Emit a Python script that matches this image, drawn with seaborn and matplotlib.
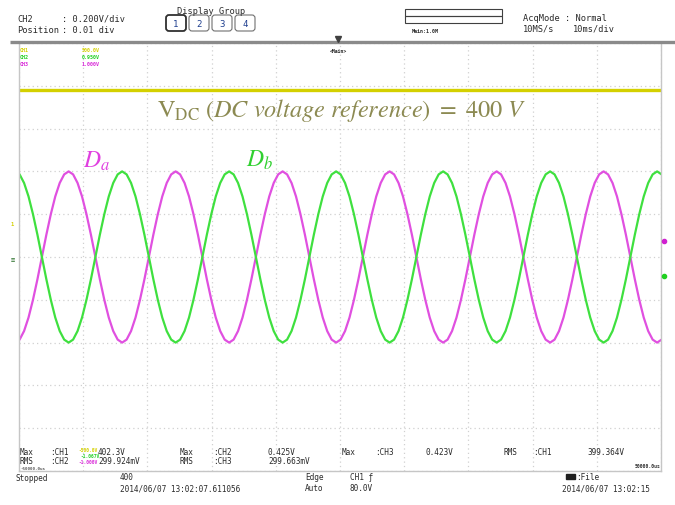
import numpy as np
import matplotlib
matplotlib.use("Agg")
import matplotlib.pyplot as plt
import seaborn as sns
from matplotlib.patches import Rectangle, FancyBboxPatch

time_per_div_ms = 10.0
n_div_x = 10
n_div_y = 10
ch23_volts_per_div = 0.2      # CH2 / CH3 vertical scale
ch1_volts_per_div = 100.0     # CH1 (DC link) vertical scale
ch1_position_div = -0.1       # CH1 trace position offset

sample_start_ms = -0.6        # time of first reading
sample_step_ms = 0.6944       # spacing of readings

# D_a (CH3, magenta) readings, volts
da_volts = [
    -0.400, -0.386, -0.346, -0.283, -0.200, -0.104, 0.000, 0.104, 0.200, 0.283, 0.346, 0.386,
    0.400, 0.386, 0.346, 0.283, 0.200, 0.104, 0.000, -0.104, -0.200, -0.283, -0.346, -0.386,
    -0.400, -0.386, -0.346, -0.283, -0.200, -0.104, 0.000, 0.104, 0.200, 0.283, 0.346, 0.386,
    0.400, 0.386, 0.346, 0.283, 0.200, 0.104, 0.000, -0.104, -0.200, -0.283, -0.346, -0.386,
    -0.400, -0.386, -0.346, -0.283, -0.200, -0.104, 0.000, 0.104, 0.200, 0.283, 0.346, 0.386,
    0.400, 0.386, 0.346, 0.283, 0.200, 0.104, 0.000, -0.104, -0.200, -0.283, -0.346, -0.386,
    -0.400, -0.386, -0.346, -0.283, -0.200, -0.104, 0.000, 0.104, 0.200, 0.283, 0.346, 0.386,
    0.400, 0.386, 0.346, 0.283, 0.200, 0.104, 0.000, -0.104, -0.200, -0.283, -0.346, -0.386,
    -0.400, -0.386, -0.346, -0.283, -0.200, -0.104, 0.000, 0.104, 0.200, 0.283, 0.346, 0.386,
    0.400, 0.386, 0.346, 0.283, 0.200, 0.104, 0.000, -0.104, -0.200, -0.283, -0.346, -0.386,
    -0.400, -0.386, -0.346, -0.283, -0.200, -0.104, 0.000, 0.104, 0.200, 0.283, 0.346, 0.386,
    0.400, 0.386, 0.346, 0.283, 0.200, 0.104, 0.000, -0.104, -0.200, -0.283, -0.346, -0.386,
    -0.400, -0.386,
]
# D_b (CH2, green) readings, volts
db_volts = [
    0.400, 0.386, 0.346, 0.283, 0.200, 0.104, 0.000, -0.104, -0.200, -0.283, -0.346, -0.386,
    -0.400, -0.386, -0.346, -0.283, -0.200, -0.104, 0.000, 0.104, 0.200, 0.283, 0.346, 0.386,
    0.400, 0.386, 0.346, 0.283, 0.200, 0.104, 0.000, -0.104, -0.200, -0.283, -0.346, -0.386,
    -0.400, -0.386, -0.346, -0.283, -0.200, -0.104, 0.000, 0.104, 0.200, 0.283, 0.346, 0.386,
    0.400, 0.386, 0.346, 0.283, 0.200, 0.104, 0.000, -0.104, -0.200, -0.283, -0.346, -0.386,
    -0.400, -0.386, -0.346, -0.283, -0.200, -0.104, 0.000, 0.104, 0.200, 0.283, 0.346, 0.386,
    0.400, 0.386, 0.346, 0.283, 0.200, 0.104, 0.000, -0.104, -0.200, -0.283, -0.346, -0.386,
    -0.400, -0.386, -0.346, -0.283, -0.200, -0.104, 0.000, 0.104, 0.200, 0.283, 0.346, 0.386,
    0.400, 0.386, 0.346, 0.283, 0.200, 0.104, 0.000, -0.104, -0.200, -0.283, -0.346, -0.386,
    -0.400, -0.386, -0.346, -0.283, -0.200, -0.104, 0.000, 0.104, 0.200, 0.283, 0.346, 0.386,
    0.400, 0.386, 0.346, 0.283, 0.200, 0.104, 0.000, -0.104, -0.200, -0.283, -0.346, -0.386,
    -0.400, -0.386, -0.346, -0.283, -0.200, -0.104, 0.000, 0.104, 0.200, 0.283, 0.346, 0.386,
    0.400, 0.386,
]
# DC link voltage (CH1), volts
vdc_time_ms = [0.0, 100.0]
vdc_volts = [400.0, 400.0]

header_left = [("CH2", ": 0.200V/div"), ("Position", ": 0.01 div")]
display_groups = ["1", "2", "3", "4"]
acq_lines = [("AcqMode : Normal", ""), ("10MS/s", "10ms/div")]
row1 = [("Max", ":CH1", "402.3V"), ("Max", ":CH2", "0.425V"),
        ("Max", ":CH3", "0.423V"), ("RMS", ":CH1", "399.364V")]
row2 = [("RMS", ":CH2", "299.924mV"), ("RMS", ":CH3", "299.663mV")]

# ---------------- styling ----------------
sns.set_style("white")
plt.rcParams["font.family"] = ["DejaVu Sans Mono", "DejaVu Sans"]
plt.rcParams["mathtext.fontset"] = "stix"

C_MAG = "#e050e0"
C_GRN = "#3fe03f"
C_YEL = "#d4d000"
C_TXT = "#2a2a2a"

W, H = 675, 506
fig = plt.figure(figsize=(W / 100, H / 100), dpi=100)
fig.patch.set_facecolor("white")

x0, x1, y0, y1 = 19, 661, 44, 472
ax = fig.add_axes([x0 / W, 1 - y1 / H, (x1 - x0) / W, (y1 - y0) / H])

t = sample_start_ms + sample_step_ms * np.arange(len(da_volts))
da_div = np.array(da_volts) / ch23_volts_per_div
db_div = np.array(db_volts) / ch23_volts_per_div
vdc_div = np.array(vdc_volts) / ch1_volts_per_div + ch1_position_div

sns.lineplot(x=vdc_time_ms, y=vdc_div, ax=ax, color=C_YEL, linewidth=2.4, estimator=None)
sns.lineplot(x=t, y=da_div, ax=ax, color=C_MAG, linewidth=1.6, estimator=None, sort=False)
sns.lineplot(x=t, y=db_div, ax=ax, color=C_GRN, linewidth=1.6, estimator=None, sort=False)

ax.set_xlim(0, n_div_x * time_per_div_ms)
ax.set_ylim(-n_div_y / 2, n_div_y / 2)
ax.set_xticks(np.arange(0, n_div_x * time_per_div_ms + 1, time_per_div_ms))
ax.set_yticks(np.arange(-n_div_y / 2, n_div_y / 2 + 1, 1))
ax.set_xticklabels([])
ax.set_yticklabels([])
ax.tick_params(length=0)
ax.grid(True, color="#d0d0d0", linestyle=(0, (1, 2.5)), linewidth=0.9)
ax.set_xlabel("")
ax.set_ylabel("")
for s in ["left", "right", "bottom"]:
    ax.spines[s].set_color("#c6c6c6")
    ax.spines[s].set_linewidth(1.0)
ax.spines["top"].set_visible(False)

# ---------------- overlay in pixel coordinates ----------------
ov = fig.add_axes([0, 0, 1, 1])
ov.set_xlim(0, W)
ov.set_ylim(H, 0)
ov.axis("off")
ov.patch.set_alpha(0)

def txt(x, y, s, size=6.2, color=C_TXT, **kw):
    ov.text(x, y, s, fontsize=size, color=color, va="center", ha=kw.pop("ha", "left"), **kw)

# header
txt(17, 19, header_left[0][0]); txt(62, 19, header_left[0][1])
txt(17, 30, header_left[1][0]); txt(62, 30, header_left[1][1])
txt(177, 11, "Display Group")
for i, g in enumerate(display_groups):
    bx = 166 + i * 23
    ov.add_patch(FancyBboxPatch((bx, 16), 20, 16, boxstyle="round,pad=0,rounding_size=3",
                                fill=False, ec="#303030" if i == 0 else "#707070",
                                lw=1.3 if i == 0 else 0.8))
    txt(bx + 10, 24.5, g, size=6.5, color="#1f3f8f", ha="center")
ov.add_patch(Rectangle((405, 10), 97, 7, fill=False, ec="#404040", lw=0.8))
ov.add_patch(Rectangle((405, 17), 97, 7, fill=False, ec="#404040", lw=0.8))
txt(412, 31, "Main:1.0M", size=3.6, weight="bold")
txt(523, 18, acq_lines[0][0], size=6.2)
txt(523, 29, acq_lines[1][0], size=6.2)
txt(573, 29, acq_lines[1][1], size=6.2)
ov.plot([10, 675], [43, 43], color="#8a8a8a", lw=2.4, solid_capstyle="butt")
ov.plot([338], [40], marker="v", ms=4, color="#404040")
txt(330, 51, "<Main>", size=3.4, weight="bold")

# channel scale labels (top)
txt(20, 50, "CH1", size=3.6, color=C_YEL, weight="bold"); txt(82, 50, "500.0V", size=3.6, color=C_YEL, weight="bold")
txt(20, 57, "CH2", size=3.6, color="#22d022", weight="bold"); txt(82, 57, "0.950V", size=3.6, color="#22d022", weight="bold")
txt(20, 64, "CH3", size=3.6, color="#d828d8", weight="bold"); txt(82, 64, "1.000V", size=3.6, color="#d828d8", weight="bold")

# side markers
txt(12, 224, "1", size=4, color=C_YEL, weight="bold", ha="center")
txt(13, 259, "≡", size=5, color="#3a7a3a", weight="bold", ha="center")
ov.plot([664], [242], marker="o", ms=3, color="#d020d0")
ov.plot([664], [277], marker="o", ms=3, color="#20d020")

# annotations
ov.text(157, 110, r"$\mathrm{V}_{\mathrm{DC}}\ \mathit{(DC\ voltage\ reference)\ =\ 400\ V}$",
        fontsize=17.5, color="#8c8a52", va="center", ha="left")
ov.text(83, 161, r"$D_a$", fontsize=17, color="#e040e0", va="center", ha="left")
ov.text(246, 160, r"$D_b$", fontsize=17, color="#30d030", va="center", ha="left")

# measurements
cols = [(20, 50, 98), (180, 213, 268), (342, 375, 425), (503, 533, 587)]
for (a, b, c), (xa, xb, xc) in zip(row1, cols):
    txt(xa, 453, a, size=5.6); txt(xb, 453, b, size=5.6); txt(xc, 453, c, size=5.6)
for (a, b, c), (xa, xb, xc) in zip(row2, cols[:2]):
    txt(xa, 462, a, size=5.6); txt(xb, 462, b, size=5.6); txt(xc, 462, c, size=5.6)
txt(20, 469.5, "-50000.0us", size=3.0, color="#555555", weight="bold")
txt(78, 451, "-500.0V", size=3.3, color=C_YEL, weight="bold")
txt(80, 457, "-1.067V", size=3.3, color="#22d022", weight="bold")
txt(78, 463, "-1.000V", size=3.3, color="#d828d8", weight="bold")
txt(660, 467, "50000.0us", size=3.4, weight="bold", ha="right")

# bottom status
txt(15, 479, "Stopped", size=5.6)
txt(120, 478, "400", size=5.6)
txt(120, 489, "2014/06/07 13:02:07.611056", size=5.6)
txt(305, 478, "Edge", size=5.6)
txt(305, 489, "Auto", size=5.6)
txt(350, 478, "CH1 ƒ", size=5.6)
txt(350, 489, "80.0V", size=5.6)
ov.add_patch(Rectangle((566, 475), 9, 5, color="#202020"))
txt(576, 478, ":File", size=5.6)
txt(562, 489, "2014/06/07 13:02:15", size=5.6)

fig.savefig("out.png", dpi=100, facecolor="white")
